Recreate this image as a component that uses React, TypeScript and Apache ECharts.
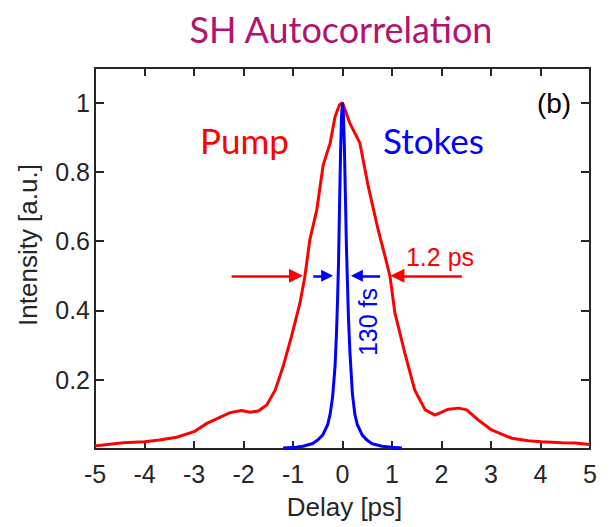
import React, { useEffect, useRef } from 'react';
import * as echarts from 'echarts';

const pumpDelay = [-5.0, -4.7, -4.43, -4.0, -3.7, -3.35, -3.0, -2.74, -2.5, -2.27, -2.04, -1.87, -1.7, -1.53, -1.36, -1.2, -1.03, -0.86, -0.76, -0.66, -0.52, -0.39, -0.25, -0.15, -0.06, 0, 0.15, 0.35, 0.52, 0.72, 0.86, 0.96, 1.06, 1.26, 1.46, 1.67, 1.87, 2.14, 2.35, 2.51, 2.74, 3.01, 3.42, 3.75, 4.02, 4.43, 4.7, 5.0];
const pumpIntensity = [0.009, 0.014, 0.018, 0.021, 0.026, 0.034, 0.05, 0.074, 0.09, 0.105, 0.111, 0.106, 0.11, 0.127, 0.17, 0.238, 0.325, 0.421, 0.498, 0.604, 0.69, 0.82, 0.883, 0.96, 0.994, 1.0, 0.94, 0.884, 0.758, 0.633, 0.556, 0.498, 0.392, 0.277, 0.17, 0.113, 0.098, 0.115, 0.118, 0.113, 0.084, 0.055, 0.031, 0.024, 0.021, 0.018, 0.017, 0.013];

const stokesDelay = [-1.2, -1.0, -0.8, -0.6, -0.5, -0.4, -0.3, -0.25, -0.2, -0.15, -0.12, -0.1, -0.08, -0.06, -0.04, -0.02, 0, 0.02, 0.04, 0.06, 0.08, 0.1, 0.12, 0.15, 0.2, 0.25, 0.3, 0.4, 0.5, 0.6, 0.8, 1.0, 1.2];
const stokesIntensity = [0.003, 0.004, 0.008, 0.016, 0.026, 0.04, 0.07, 0.1, 0.15, 0.24, 0.34, 0.43, 0.54, 0.7, 0.85, 0.96, 1.0, 0.96, 0.86, 0.72, 0.58, 0.48, 0.38, 0.28, 0.16, 0.1, 0.07, 0.04, 0.025, 0.015, 0.008, 0.005, 0.003];

const yTickLabels = [0.2, 0.4, 0.6, 0.8, 1];

// annotation arrows in data coordinates: [tail, head]
const pumpArrows = [
  [[-2.24, 0.5], [-0.94, 0.5]],
  [[2.41, 0.5], [1.11, 0.5]],
];
const stokesArrows = [
  [[-0.59, 0.5], [-0.31, 0.5]],
  [[0.76, 0.5], [0.29, 0.5]],
];

const RED = '#ff0000';
const BLUE = '#0000ff';
const AXIS = '#262626';

export default function App() {
  const ref = useRef<HTMLDivElement>(null);
  useEffect(() => {
    document.body.style.margin = '0';
    const chart = echarts.init(ref.current!, null, { renderer: 'svg' });
    const pumpData = pumpDelay.map((x, i) => [x, pumpIntensity[i]]);
    const stokesData = stokesDelay.map((x, i) => [x, stokesIntensity[i]]);
    const mkArrows = (arr: number[][][]) =>
      arr.map((a) => [{ coord: a[0] }, { coord: a[1] }]);

    const xBase = {
      type: 'value',
      min: -5,
      max: 5,
      interval: 1,
      splitLine: { show: false },
      axisLine: { show: true, onZero: false, lineStyle: { color: AXIS, width: 2 } },
      axisTick: { show: true, inside: true, length: 8, lineStyle: { color: AXIS, width: 2 } },
    };
    const yBase = {
      type: 'value',
      min: 0,
      max: 1.1,
      interval: 0.2,
      splitLine: { show: false },
      axisLine: { show: true, onZero: false, lineStyle: { color: AXIS, width: 2 } },
      axisTick: { show: true, inside: true, length: 9, lineStyle: { color: AXIS, width: 2 } },
    };

    chart.setOption({
      animation: false,
      grid: { left: 95, right: 22, top: 68, bottom: 78, containLabel: false },
      xAxis: [
        {
          ...xBase,
          position: 'bottom',
          axisLabel: {
            show: true,
            margin: 12,
            color: AXIS,
            fontFamily: 'Liberation Sans',
            fontSize: 25,
          },
        },
        { ...xBase, position: 'top', axisLabel: { show: false } },
      ],
      yAxis: [
        {
          ...yBase,
          position: 'left',
          axisLabel: {
            show: true,
            margin: 5,
            color: AXIS,
            fontFamily: 'Liberation Sans',
            fontSize: 25,
            formatter: (v: number) => {
              const r = Math.round(v * 10) / 10;
              return yTickLabels.includes(r) ? String(r) : '';
            },
          },
        },
        { ...yBase, position: 'right', axisLabel: { show: false } },
      ],
      series: [
        {
          type: 'line',
          name: 'Pump',
          data: pumpData,
          showSymbol: false,
          symbol: 'none',
          lineStyle: { color: RED, width: 3 },
          itemStyle: { color: RED },
          emphasis: { disabled: true },
          markLine: {
            silent: true,
            symbol: ['none', 'triangle'],
            symbolSize: 14,
            label: { show: false },
            emphasis: { disabled: true },
            lineStyle: { color: RED, width: 2.5, type: 'solid' },
            data: mkArrows(pumpArrows),
          },
        },
        {
          type: 'line',
          name: 'Stokes',
          data: stokesData,
          showSymbol: false,
          symbol: 'none',
          lineStyle: { color: BLUE, width: 3 },
          itemStyle: { color: BLUE },
          emphasis: { disabled: true },
          markLine: {
            silent: true,
            symbol: ['none', 'triangle'],
            symbolSize: 12,
            label: { show: false },
            emphasis: { disabled: true },
            lineStyle: { color: BLUE, width: 2.5, type: 'solid' },
            data: mkArrows(stokesArrows),
          },
        },
      ],
      graphic: [
        {
          type: 'text', x: 341, y: 29,
          style: { text: 'SH Autocorrelation', fontFamily: 'Lato', fontSize: 36, fill: '#b3136f', align: 'center', verticalAlign: 'middle' },
        },
        {
          type: 'text', x: 244.5, y: 140,
          style: { text: 'Pump', fontFamily: 'Lato', fontSize: 35, fill: RED, align: 'center', verticalAlign: 'middle' },
        },
        {
          type: 'text', x: 433.5, y: 140,
          style: { text: 'Stokes', fontFamily: 'Lato', fontSize: 35, fill: BLUE, align: 'center', verticalAlign: 'middle' },
        },
        {
          type: 'text', x: 554, y: 103,
          style: { text: '(b)', fontFamily: 'Liberation Sans', fontSize: 28, fill: '#000', align: 'center', verticalAlign: 'middle' },
        },
        {
          type: 'text', x: 440, y: 257,
          style: { text: '1.2 ps', fontFamily: 'Liberation Sans', fontSize: 25, fill: RED, align: 'center', verticalAlign: 'middle' },
        },
        {
          type: 'text', x: 368, y: 322, rotation: Math.PI / 2,
          style: { text: '130 fs', fontFamily: 'Liberation Sans', fontSize: 25, fill: BLUE, align: 'center', verticalAlign: 'middle' },
        },
        {
          type: 'text', x: 344.5, y: 507,
          style: { text: 'Delay [ps]', fontFamily: 'Liberation Sans', fontSize: 26, fill: AXIS, align: 'center', verticalAlign: 'middle' },
        },
        {
          type: 'text', x: 28, y: 245, rotation: Math.PI / 2,
          style: { text: 'Intensity [a.u.]', fontFamily: 'Liberation Sans', fontSize: 26, fill: AXIS, align: 'center', verticalAlign: 'middle' },
        },
      ],
    });
    return () => chart.dispose();
  }, []);
  return (
    <div
      ref={ref}
      style={{ position: 'absolute', left: 0, top: 0, width: 612, height: 527 }}
    />
  );
}
